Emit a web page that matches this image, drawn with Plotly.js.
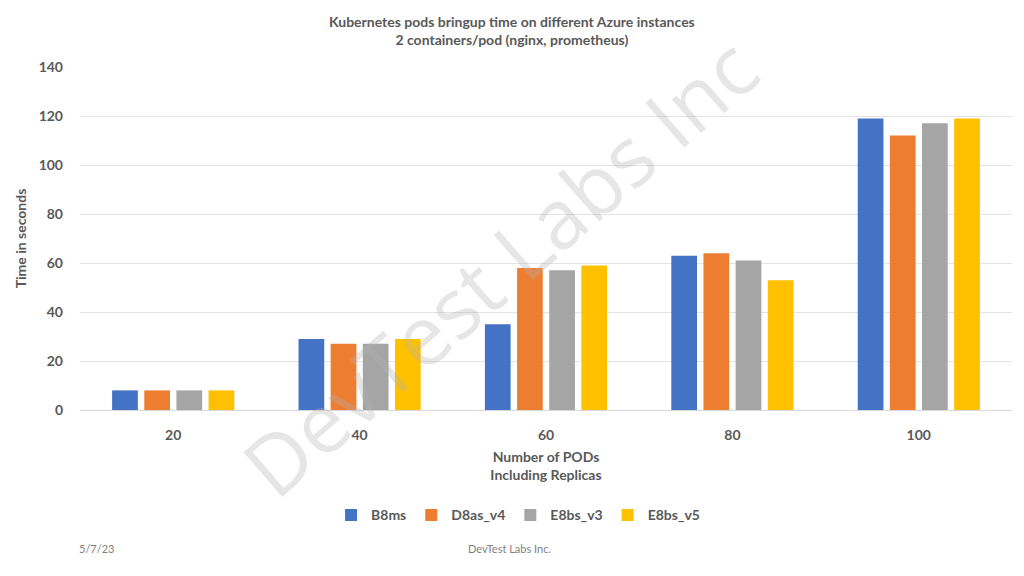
<!DOCTYPE html>
<html><head><meta charset="utf-8">
<script src="https://cdn.plot.ly/plotly-3.0.1.min.js"></script>
<style>html,body{margin:0;padding:0;background:#fff;}#chart{width:1024px;height:576px;}</style>
</head><body><div id="chart"></div>
<script>
const categories = ["20", "40", "60", "80", "100"];
const seriesNames = ["B8ms", "D8as_v4", "E8bs_v3", "E8bs_v5"];
const B8ms = [8, 29, 35, 63, 119];
const D8as_v4 = [8, 27, 58, 64, 112];
const E8bs_v3 = [8, 27, 57, 61, 117];
const E8bs_v5 = [8, 29, 59, 53, 119];
const yTicks = [0, 20, 40, 60, 80, 100, 120, 140];
const colors = ["#4472C4", "#ED7D31", "#A5A5A5", "#FFC000"];
const values = [B8ms, D8as_v4, E8bs_v3, E8bs_v5];

const font = "Lato, 'Open Sans', sans-serif";
const traces = seriesNames.map((n, i) => ({
  type: "bar", name: "<b>" + n + "</b>", x: categories, y: values[i],
  marker: {color: colors[i]}, hoverinfo: "y"
}));

const layout = {
  width: 1024, height: 576,
  margin: {l: 80, r: 12, t: 67, b: 166},
  paper_bgcolor: "#fff", plot_bgcolor: "#fff",
  barmode: "group", bargap: 0.31, bargroupgap: 0.2,
  font: {family: font, color: "#595959"},
  xaxis: {type: "category", showgrid: false, showline: true, linecolor: "#d9d9d9", linewidth: 1,
    tickvals: categories, ticktext: categories.map(c => "<b>" + c + "</b>"),
    ticks: "", tickfont: {size: 14, color: "#595959", family: font}, ticklabelstandoff: 12,
    title: {text: "<b>Number of PODs<br>Including Replicas</b>", font: {size: 14, color: "#595959", family: font}, standoff: 10}},
  yaxis: {range: [0, 140], tickvals: yTicks, ticktext: yTicks.map(v => "<b>" + v + "</b>"),
    showgrid: true, gridcolor: "#e3e3e3", zeroline: false, showline: false, ticks: "",
    tickfont: {size: 14, color: "#595959", family: font}, ticklabelstandoff: 16,
    title: {text: "<b>Time in seconds</b>", font: {size: 14, color: "#595959", family: font}, standoff: 8}},
  legend: {orientation: "h", x: 0.47, xanchor: "center", y: -0.307, yanchor: "middle",
    font: {size: 14, color: "#595959", family: font}, itemwidth: 30, traceorder: "normal"},
  annotations: [
    {text: "DevTest Labs Inc", xref: "paper", yref: "paper", x: 0.45, y: 0.42, showarrow: false,
      textangle: -41, font: {size: 83, color: "rgba(180,180,180,0.33)", family: "'Open Sans', sans-serif"}},
    {text: "<b>Kubernetes pods bringup time on different Azure instances<br>2 containers/pod (nginx, prometheus)</b>",
      xref: "paper", yref: "paper", x: 0.464, xanchor: "center", y: 1, yanchor: "bottom", yshift: 17,
      showarrow: false, font: {size: 14, color: "#595959", family: font}},
    {text: "5/7/23", xref: "paper", yref: "paper", x: 0, xanchor: "left", y: -0.405, yanchor: "middle",
      showarrow: false, xshift: -3, font: {size: 11, color: "#7f7f7f", family: font}},
    {text: "DevTest Labs Inc.", xref: "paper", yref: "paper", x: 0.461, xanchor: "center", y: -0.405, yanchor: "middle",
      showarrow: false, font: {size: 11, color: "#7f7f7f", family: font}}
  ]
};
Plotly.newPlot("chart", traces, layout, {displayModeBar: false, staticPlot: true});
</script></body></html>
